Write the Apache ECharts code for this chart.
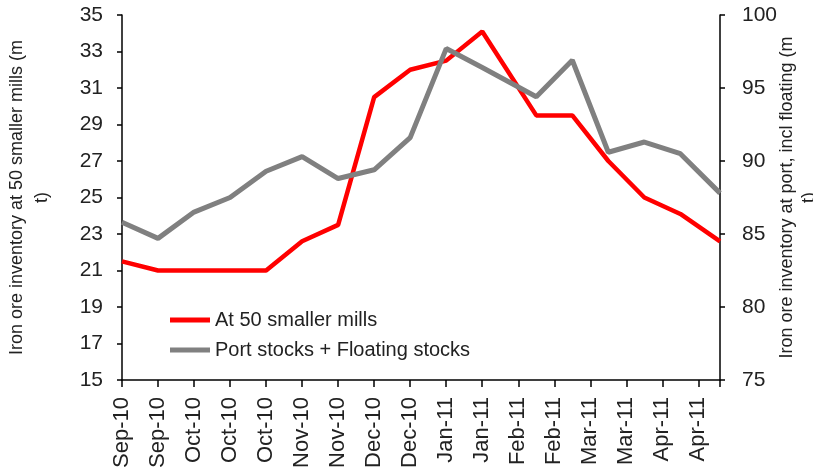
<!DOCTYPE html>
<html>
<head>
<meta charset="utf-8">
<script src="https://cdn.jsdelivr.net/npm/echarts@6/dist/echarts.min.js"></script>
<style>
html, body { margin: 0; padding: 0; background: #fff; }
#chart { width: 813px; height: 476px; }
</style>
</head>
<body>
<div id="chart"></div>
<script>
// x positions (in label steps) of each observation, the dates are not evenly spaced
var xPos = [0, 1, 2, 3, 4, 5, 6, 7, 8, 9, 10, 11.5, 12.5, 13.5, 14.5, 15.5, 16.6]
var xLabels = ['Sep-10', 'Sep-10', 'Oct-10', 'Oct-10', 'Oct-10', 'Nov-10', 'Nov-10', 'Dec-10', 'Dec-10',
  'Jan-11', 'Jan-11', 'Feb-11', 'Feb-11', 'Mar-11', 'Mar-11', 'Apr-11', 'Apr-11']
var millStocks = [21.5, 21, 21, 21, 21, 22.6, 23.5, 30.5, 32, 32.5, 34.1, 29.5, 29.5, 27, 25, 24.1, 22.6]
var portStocks = [85.8, 84.7, 86.5, 87.5, 89.3, 90.3, 88.8, 89.4, 91.6, 97.7, 96.4, 94.4, 96.9, 90.6, 91.3, 90.5, 87.8]

function pairs(vals) {
  var out = []
  for (var i = 0; i < vals.length; i++) out.push([xPos[i], vals[i]])
  return out
}

var font = '"Liberation Sans", Arial, sans-serif'
var txt = '#222'
var axisLine = { show: true, lineStyle: { color: '#000', width: 1.5 } }

var myChart = echarts.init(document.getElementById('chart'))
var option = {
  animation: false,
  textStyle: { fontFamily: font },
  grid: { left: 122, right: 93, top: 15, bottom: 96, outerBoundsMode: 'none', containLabel: false },
  legend: {
    orient: 'vertical',
    left: 170,
    top: 310,
    padding: 0,
    itemGap: 10,
    itemWidth: 40,
    itemHeight: 5,
    icon: 'rect',
    textStyle: { fontFamily: font, fontSize: 20, lineHeight: 20, color: txt },
    data: ['At 50 smaller mills', 'Port stocks + Floating stocks']
  },
  xAxis: {
    type: 'value',
    min: 0,
    max: 16.6,
    interval: 1,
    axisLine: axisLine,
    axisTick: { show: true, inside: false, length: 7, lineStyle: { color: '#000', width: 1.5 } },
    splitLine: { show: false },
    axisLabel: {
      rotate: 90,
      margin: 17,
      fontSize: 22,
      color: txt,
      fontFamily: font,
      formatter: function (v) {
        return (v === Math.round(v) && xLabels[v]) ? xLabels[v] : ''
      }
    }
  },
  yAxis: [
    {
      type: 'value',
      min: 15,
      max: 35,
      interval: 2,
      position: 'left',
      name: 'Iron ore inventory at 50 smaller mills (m\nt)',
      nameLocation: 'middle',
      nameRotate: 90,
      nameGap: 67,
      nameMoveOverlap: false,
      nameTextStyle: { fontSize: 18, lineHeight: 25, color: txt, fontFamily: font },
      axisLine: axisLine,
      axisTick: { show: true, length: 5, lineStyle: { color: '#000', width: 1.5 } },
      splitLine: { show: false },
      axisLabel: { fontSize: 21, color: txt, margin: 19, fontFamily: font }
    },
    {
      type: 'value',
      min: 75,
      max: 100,
      interval: 5,
      position: 'right',
      name: 'Iron ore inventory at port, incl floating (m\nt)',
      nameLocation: 'middle',
      nameRotate: 90,
      nameGap: 56,
      nameMoveOverlap: false,
      nameTextStyle: { fontSize: 18, lineHeight: 22, color: txt, fontFamily: font },
      axisLine: axisLine,
      axisTick: { show: true, length: 5, lineStyle: { color: '#000', width: 1.5 } },
      splitLine: { show: false },
      axisLabel: { fontSize: 21, color: txt, margin: 22, fontFamily: font }
    }
  ],
  series: [
    {
      name: 'At 50 smaller mills',
      type: 'line',
      yAxisIndex: 0,
      symbol: 'none',
      itemStyle: { color: '#ff0000' },
      lineStyle: { color: '#ff0000', width: 4.5 },
      data: pairs(millStocks)
    },
    {
      name: 'Port stocks + Floating stocks',
      type: 'line',
      yAxisIndex: 1,
      symbol: 'none',
      itemStyle: { color: '#808080' },
      lineStyle: { color: '#808080', width: 5 },
      data: pairs(portStocks)
    }
  ]
}
myChart.setOption(option)
</script>
</body>
</html>
